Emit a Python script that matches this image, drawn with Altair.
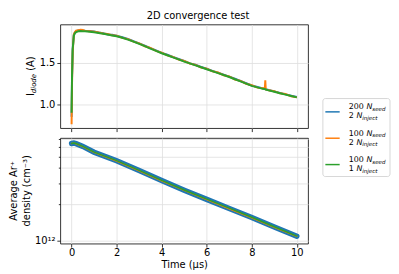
import altair as alt
import pandas as pd

# ---------------- data ----------------
t_cur = [0, 0.02, 0.05, 0.1, 0.15, 0.2, 0.3, 0.4, 0.5, 0.6, 0.8, 1.0, 1.2, 1.4, 1.6, 1.8,
         2.0, 2.25, 2.5, 2.75, 3.0, 3.25, 3.5, 3.75, 4.0, 4.25, 4.5, 4.75, 5.0, 5.25, 5.5,
         5.75, 6.0, 6.25, 6.5, 6.75, 7.0, 7.25, 7.5, 7.75, 8.0, 8.25, 8.5, 8.58, 8.6, 8.62,
         8.75, 9.0, 9.25, 9.5, 9.75, 10.0]
i_blue = [0.85, 1.31, 1.66, 1.84, 1.87, 1.885, 1.892, 1.898, 1.893, 1.889,
          1.886, 1.879, 1.868, 1.86, 1.844, 1.84, 1.829, 1.81, 1.79, 1.762,
          1.737, 1.71, 1.68, 1.652, 1.622, 1.599, 1.572, 1.548, 1.525, 1.495,
          1.478, 1.452, 1.43, 1.403, 1.384, 1.36, 1.335, 1.31, 1.283, 1.256,
          1.229, 1.21, 1.193, 1.19, 1.186, 1.184, 1.175, 1.158, 1.14, 1.121, 1.106, 1.09]
i_orange = [0.76, 1.25, 1.63, 1.845, 1.872, 1.89, 1.895, 1.9, 1.897, 1.887,
            1.884, 1.876, 1.869, 1.855, 1.849, 1.834, 1.83, 1.803, 1.788, 1.758,
            1.736, 1.702, 1.681, 1.645, 1.624, 1.592, 1.573, 1.541, 1.524, 1.494,
            1.476, 1.446, 1.432, 1.4, 1.385, 1.352, 1.337, 1.301, 1.285, 1.25,
            1.232, 1.203, 1.195, 1.188, 1.29, 1.182, 1.17, 1.16, 1.134, 1.125, 1.098, 1.085]
i_green = [0.9, 1.35, 1.67, 1.83, 1.86, 1.872, 1.883, 1.886, 1.884, 1.882,
           1.876, 1.87, 1.862, 1.853, 1.843, 1.832, 1.822, 1.804, 1.781, 1.757,
           1.73, 1.703, 1.674, 1.646, 1.617, 1.593, 1.567, 1.543, 1.517, 1.495,
           1.471, 1.448, 1.424, 1.402, 1.378, 1.355, 1.331, 1.304, 1.278, 1.251,
           1.224, 1.206, 1.188, 1.186, 1.182, 1.18, 1.17, 1.153, 1.135, 1.118, 1.101, 1.085]

t_den = [0, 0.1, 0.2, 0.5, 1, 2, 3, 4, 5, 6, 7, 8, 9, 10]
n_blue = [6.40e12, 6.45e12, 6.38e12, 6.05e12, 5.42e12, 4.60e12, 3.82e12, 3.15e12,
          2.62e12, 2.20e12, 1.85e12, 1.56e12, 1.30e12, 1.09e12]
n_orange = [6.39e12, 6.44e12, 6.37e12, 6.03e12, 5.40e12, 4.58e12, 3.80e12, 3.13e12,
            2.61e12, 2.19e12, 1.84e12, 1.55e12, 1.29e12, 1.085e12]
n_green = [6.41e12, 6.46e12, 6.39e12, 6.06e12, 5.43e12, 4.61e12, 3.83e12, 3.16e12,
           2.63e12, 2.21e12, 1.86e12, 1.565e12, 1.305e12, 1.092e12]

colors = ["#1f77b4", "#ff7f0e", "#2ca02c"]
leg_num = [("200 ", "2 "), ("100 ", "2 "), ("100 ", "1 ")]
x_ticks = [0, 2, 4, 6, 8, 10]
y_ticks_top = [1.0, 1.5]
y_ticks_bot = [1e12, 2e12, 3e12, 4e12, 5e12, 6e12, 7e12]

FONT = "DejaVu Sans"
W, H1, H2 = 251, 105, 107

common = dict(domain=False, grid=True, gridColor="#dedede", gridWidth=0.8,
              tickColor="black", tickWidth=0.8, tickSize=3.5,
              labelFont=FONT, labelFontSize=10, labelColor="black")

xs = alt.Scale(domain=[-0.5, 10.5], nice=False, zero=False)
ys_top = alt.Scale(domain=[0.714, 1.964], nice=False, zero=False)
ys_bot = alt.Scale(type="log", domain=[0.945e12, 7.1e12], nice=False)

dummy = pd.DataFrame({"a": [0]})

def txt(s, x, y, size=10, style="normal", angle=0, align="left", baseline="alphabetic"):
    return alt.Chart(dummy).mark_text(
        text=s, font=FONT, fontSize=size, fontStyle=style, angle=angle,
        align=align, baseline=baseline, color="black"
    ).encode(x=alt.value(x), y=alt.value(y))

# ---------------- top panel ----------------
top_layers = []
for vals, c in zip([i_blue, i_orange, i_green], colors):
    df = pd.DataFrame({"t": t_cur, "I": vals})
    top_layers.append(
        alt.Chart(df).mark_line(color=c, strokeWidth=2, clip=True).encode(
            x=alt.X("t:Q", scale=xs,
                    axis=alt.Axis(values=x_ticks, labels=False, title=None, **common)),
            y=alt.Y("I:Q", scale=ys_top,
                    axis=alt.Axis(values=y_ticks_top, format=".1f", title=None, labelPadding=2, **common)),
        )
    )

# figure title
top_layers.append(txt("2D convergence test", 139.5, -6, size=10, align="center"))
# y label: I_diode (A)
yl_x, yl_y = -26.5, 72.5
top_layers.append(txt("I", yl_x, yl_y, angle=270))
top_layers.append(txt("diode", yl_x + 2.2, yl_y - 2.95, size=7, style="italic", angle=270))
top_layers.append(txt("(A)", yl_x, yl_y - 2.95 - 19.4 - 3.18, angle=270))

# legend
top_layers.append(
    alt.Chart(dummy).mark_rect(fill="white", fillOpacity=0.8, stroke="#cccccc",
                               strokeWidth=0.8, cornerRadius=2.5).encode(
        x=alt.value(266), x2=alt.value(334), y=alt.value(75), y2=alt.value(154))
)
for k, (c, (n1, n2)) in enumerate(zip(colors, leg_num)):
    b1 = 86 + 26.7 * k
    b2 = b1 + 9
    top_layers.append(
        alt.Chart(dummy).mark_rule(color=c, strokeWidth=1.5).encode(
            x=alt.value(268.5), x2=alt.value(283), y=alt.value(b1 + 2.5))
    )
    x0 = 292.3
    w1 = 17.81 if len(n1) == 4 else 7.63
    w2 = 7.63
    top_layers.append(txt(n1, x0, b1, size=8))
    top_layers.append(txt("N", x0 + w1, b1, size=8, style="italic"))
    top_layers.append(txt("seed", x0 + w1 + 6.0, b1 + 1.6, size=5.6, style="italic"))
    top_layers.append(txt(n2, x0, b2, size=8))
    top_layers.append(txt("N", x0 + w2, b2, size=8, style="italic"))
    top_layers.append(txt("inject", x0 + w2 + 6.0, b2 + 1.6, size=5.6, style="italic"))

top = alt.layer(*top_layers).properties(width=W, height=H1)

# ---------------- bottom panel ----------------
bot_layers = []
for vals, c, sw in zip([n_blue, n_orange, n_green], colors, [5.5, 1.5, 1.5]):
    df = pd.DataFrame({"t": t_den, "n": vals})
    bot_layers.append(
        alt.Chart(df).mark_line(color=c, strokeWidth=sw, strokeCap="round", clip=True).encode(
            x=alt.X("t:Q", scale=xs,
                    axis=alt.Axis(values=x_ticks, format="d", title="Time (μs)",
                                  titleFont=FONT, titleFontSize=10, titleFontWeight="normal",
                                  titleColor="black", titlePadding=2, labelPadding=1, **common)),
            y=alt.Y("n:Q", scale=ys_bot,
                    axis=alt.Axis(values=y_ticks_bot, title=None, labelPadding=2,
                                  labelExpr="datum.value < 1.5e12 ? '10¹²' : ''",
                                  **{**common, "tickSize": {"condition": {"test": "datum.value < 1.5e12", "value": 3.5}, "value": 2}})),
        )
    )
bot_layers.append(txt("Average Ar⁺", -44, H2 / 2, angle=270, align="center"))
bot_layers.append(txt("density (cm⁻³)", -30.5, H2 / 2, angle=270, align="center"))

bottom = alt.layer(*bot_layers).properties(width=W, height=H2)

chart = alt.vconcat(top, bottom, spacing=10, bounds="flush").configure_view(
    stroke="black", strokeWidth=0.8
).properties(padding={"left": 0, "top": 0, "right": 0, "bottom": 0}, background="white")

chart.save("out.html", embed_options={"renderer": "svg", "actions": False})
